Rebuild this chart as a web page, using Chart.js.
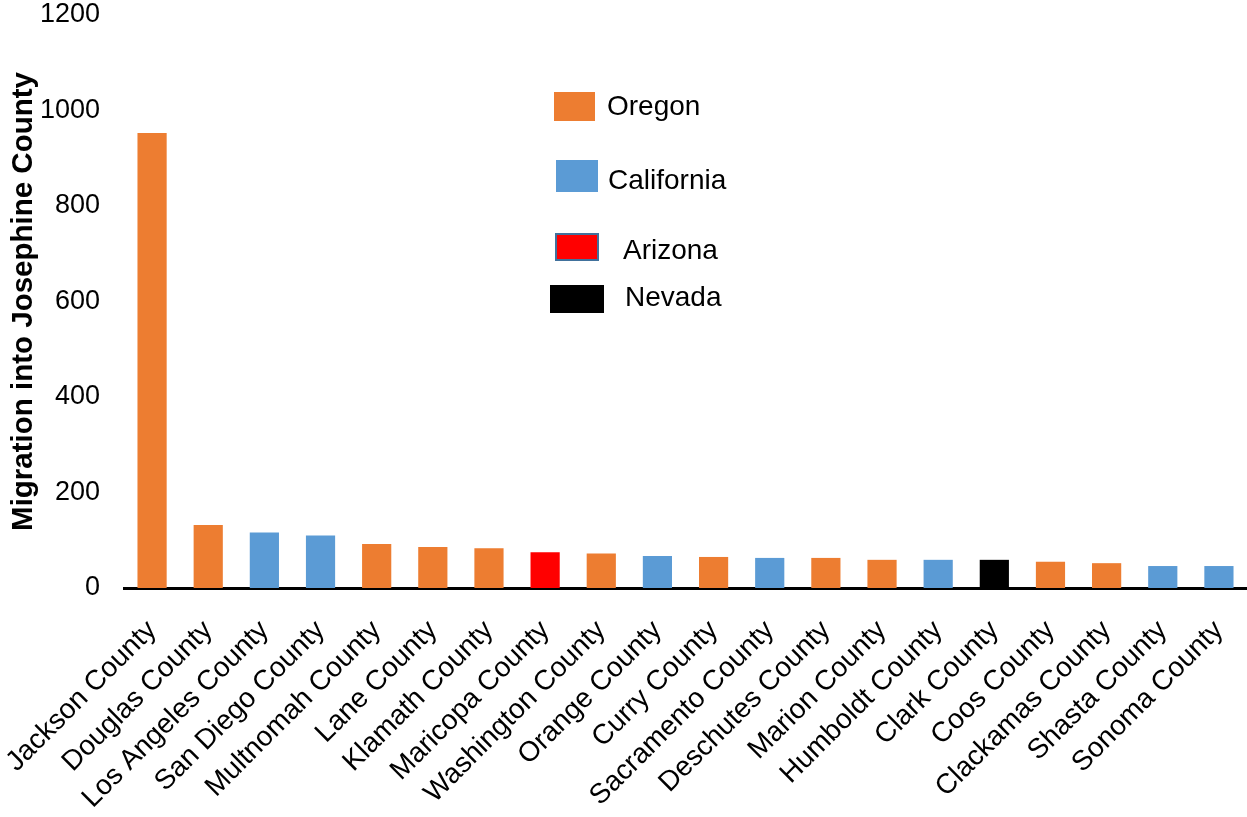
<!DOCTYPE html>
<html>
<head>
<meta charset="utf-8">
<script src="https://cdn.jsdelivr.net/npm/chart.js@4.4.1/dist/chart.umd.min.js"></script>
<style>
html,body{margin:0;padding:0;background:#fff;}
#wrap{width:1247px;height:817px;position:relative;}
</style>
</head>
<body>
<div id="wrap"><canvas id="c" width="1247" height="817"></canvas></div>
<script>
const categories = ["Jackson County","Douglas County","Los Angeles County","San Diego County","Multnomah County","Lane County","Klamath County","Maricopa County","Washington County","Orange County","Curry County","Sacramento County","Deschutes County","Marion County","Humboldt County","Clark County","Coos County","Clackamas County","Shasta County","Sonoma County"];
const migration = [953,132,116,110,92,86,83,75,72,67,65,63,63,59,59,59,55,52,46,46];
const states = ["Oregon","Oregon","California","California","Oregon","Oregon","Oregon","Arizona","Oregon","California","Oregon","California","Oregon","Oregon","California","Nevada","Oregon","Oregon","California","California"];
const legendStates = ["Oregon","California","Arizona","Nevada"];
const stateColors = {Oregon:"#ED7D31", California:"#5B9BD5", Arizona:"#FF0000", Nevada:"#000000"};
const yTicks = [0,200,400,600,800,1000,1200];

const FONT = "'Liberation Sans', Arial, sans-serif";

const legendPlugin = {
  id: 'stateLegend',
  afterDraw(chart) {
    const ctx = chart.ctx;
    const boxes = [
      {x:554,y:92,w:41,h:29,tx:607,ty:107},
      {x:556,y:160,w:42,h:32,tx:608,ty:181},
      {x:555,y:233,w:44,h:28,tx:623,ty:251},
      {x:550,y:285,w:54,h:28,tx:625,ty:298}
    ];
    ctx.save();
    legendStates.forEach((s,i)=>{
      const b = boxes[i];
      ctx.fillStyle = stateColors[s];
      ctx.fillRect(b.x,b.y,b.w,b.h);
      if (s === "Arizona") {
        ctx.strokeStyle = "#41719C";
        ctx.lineWidth = 2;
        ctx.strokeRect(b.x+1,b.y+1,b.w-2,b.h-2);
      }
      ctx.fillStyle = "#000";
      ctx.font = "28px " + FONT;
      ctx.textBaseline = "middle";
      ctx.textAlign = "left";
      ctx.fillText(s,b.tx,b.ty);
    });
    ctx.restore();
  }
};

new Chart(document.getElementById('c'), {
  type: 'bar',
  data: {
    labels: categories,
    datasets: [{
      data: migration,
      backgroundColor: states.map(s=>stateColors[s]),
      borderWidth: 0,
      categoryPercentage: 1.0,
      barPercentage: 0.52
    }]
  },
  options: {
    responsive: false,
    animation: false,
    devicePixelRatio: 1,
    layout: {padding: {top: 0, right: 0, left: 0, bottom: 0}},
    plugins: {legend: {display:false}, tooltip: {enabled:false}},
    scales: {
      x: {
        grid: {display:false, drawTicks:false},
        border: {display:true, color:'#000', width:3},
        ticks: {
          color:'#000', font:{size:28, family:FONT},
          maxRotation:45, minRotation:45, autoSkip:false, padding:26
        },
        afterFit(scale){ scale.height = 229; scale.paddingLeft = 0; scale.paddingRight = 0; }
      },
      y: {
        min: 0, max: 1200,
        afterBuildTicks(scale){ scale.ticks = yTicks.map(v=>({value:v})); },
        grid: {display:false, drawTicks:false},
        border: {display:false},
        ticks: {color:'#000', font:{size:27, family:FONT}, padding:24,
                callback: v => String(v)},
        title: {display:true, text:'Migration into Josephine County', color:'#000',
                font:{size:29.5, weight:'bold', family:FONT}, padding:{top:6,bottom:0}},
        afterFit(scale){ scale.width = 124; scale.paddingTop = 15; scale.paddingBottom = 0; }
      }
    }
  },
  plugins: [legendPlugin]
});
</script>
</body>
</html>
